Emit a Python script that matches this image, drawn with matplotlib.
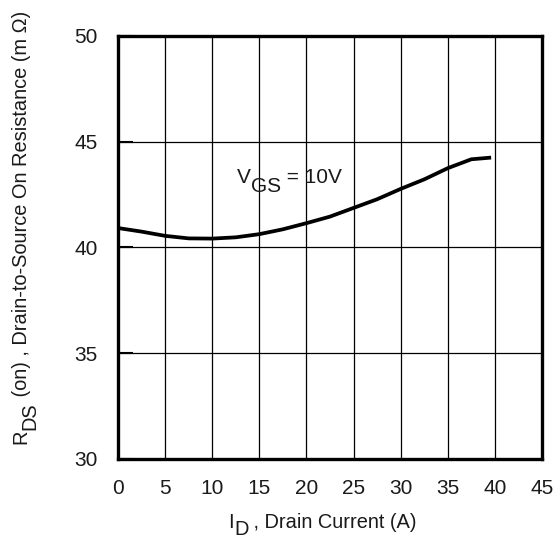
import matplotlib
matplotlib.use("Agg")
import matplotlib.pyplot as plt

plt.rcParams['font.family'] = ['Liberation Sans', 'DejaVu Sans']

drain_current = [0, 2.5, 5, 7.5, 10, 12.5, 15, 17.5, 20, 22.5, 25, 27.5, 30, 32.5, 35, 37.5, 39.6]
rds_on = [40.92, 40.75, 40.55, 40.43, 40.42, 40.48, 40.63, 40.86, 41.15, 41.46, 41.87, 42.28,
          42.77, 43.22, 43.75, 44.17, 44.25]
x_ticks = [0, 5, 10, 15, 20, 25, 30, 35, 40, 45]
y_ticks = [30, 35, 40, 45, 50]

TXT = '#1a1a1a'
FS = 15
LFS = 14.4

fig = plt.figure(figsize=(5.55, 5.41), dpi=100)
ax = fig.add_axes([0.2126, 0.1516, 0.9766 - 0.2126, 0.9335 - 0.1516])

ax.plot(drain_current, rds_on, color='black', lw=2.7, solid_capstyle='butt')

ax.set_xlim(0, 45)
ax.set_ylim(30, 50)
ax.set_xticks(x_ticks)
ax.set_yticks(y_ticks)
ax.grid(True, color='black', lw=0.9)
ax.tick_params(axis='x', length=0, pad=14.5, labelsize=15, labelcolor=TXT)
ax.tick_params(axis='y', direction='in', length=11, width=1.5, pad=14.5, labelsize=15, labelcolor=TXT)
for s in ax.spines.values():
    s.set_linewidth(2.4)

# Annotation V_GS = 10V
t1 = ax.text(12.6, 43.05, 'V', fontsize=FS, color=TXT, ha='left', va='baseline')
t2 = ax.annotate('GS', xy=(1, 0), xycoords=t1, xytext=(0, -6.5), textcoords='offset points',
                 fontsize=FS, color=TXT, ha='left', va='bottom')
ax.annotate(' = 10V', xy=(1, 0), xycoords=t2, xytext=(0, 6.5), textcoords='offset points',
            fontsize=FS, color=TXT, ha='left', va='bottom')

# X label: I_D , Drain Current (A)
xl1 = fig.text(0.4117, 0.0175, 'I', fontsize=LFS, color=TXT, ha='left', va='bottom')
xl2 = ax.annotate('D', xy=(1, 0), xycoords=xl1, xytext=(0, -5.2), textcoords='offset points',
                  fontsize=LFS, color=TXT, ha='left', va='bottom', annotation_clip=False)
ax.annotate(' , Drain Current (A)', xy=(1, 0), xycoords=xl2, xytext=(0, 5.2), textcoords='offset points',
            fontsize=LFS, color=TXT, ha='left', va='bottom', annotation_clip=False)

# Y label: R_DS (on) , Drain-to-Source On Resistance (m Ω)
yl1 = fig.text(0.021, 0.179, 'R', fontsize=LFS, color=TXT, rotation=90, ha='left', va='bottom')
yl2 = ax.annotate('DS', xy=(0, 1), xycoords=yl1, xytext=(6.5, 0), textcoords='offset points',
                  fontsize=LFS, color=TXT, rotation=90, ha='left', va='bottom', annotation_clip=False)
ax.annotate(' (on) , Drain-to-Source On Resistance (m \u03a9)', xy=(0, 1), xycoords=yl2,
            xytext=(-6.5, 0), textcoords='offset points',
            fontsize=LFS, color=TXT, rotation=90, ha='left', va='bottom', annotation_clip=False)

fig.savefig('out.png', dpi=100)
